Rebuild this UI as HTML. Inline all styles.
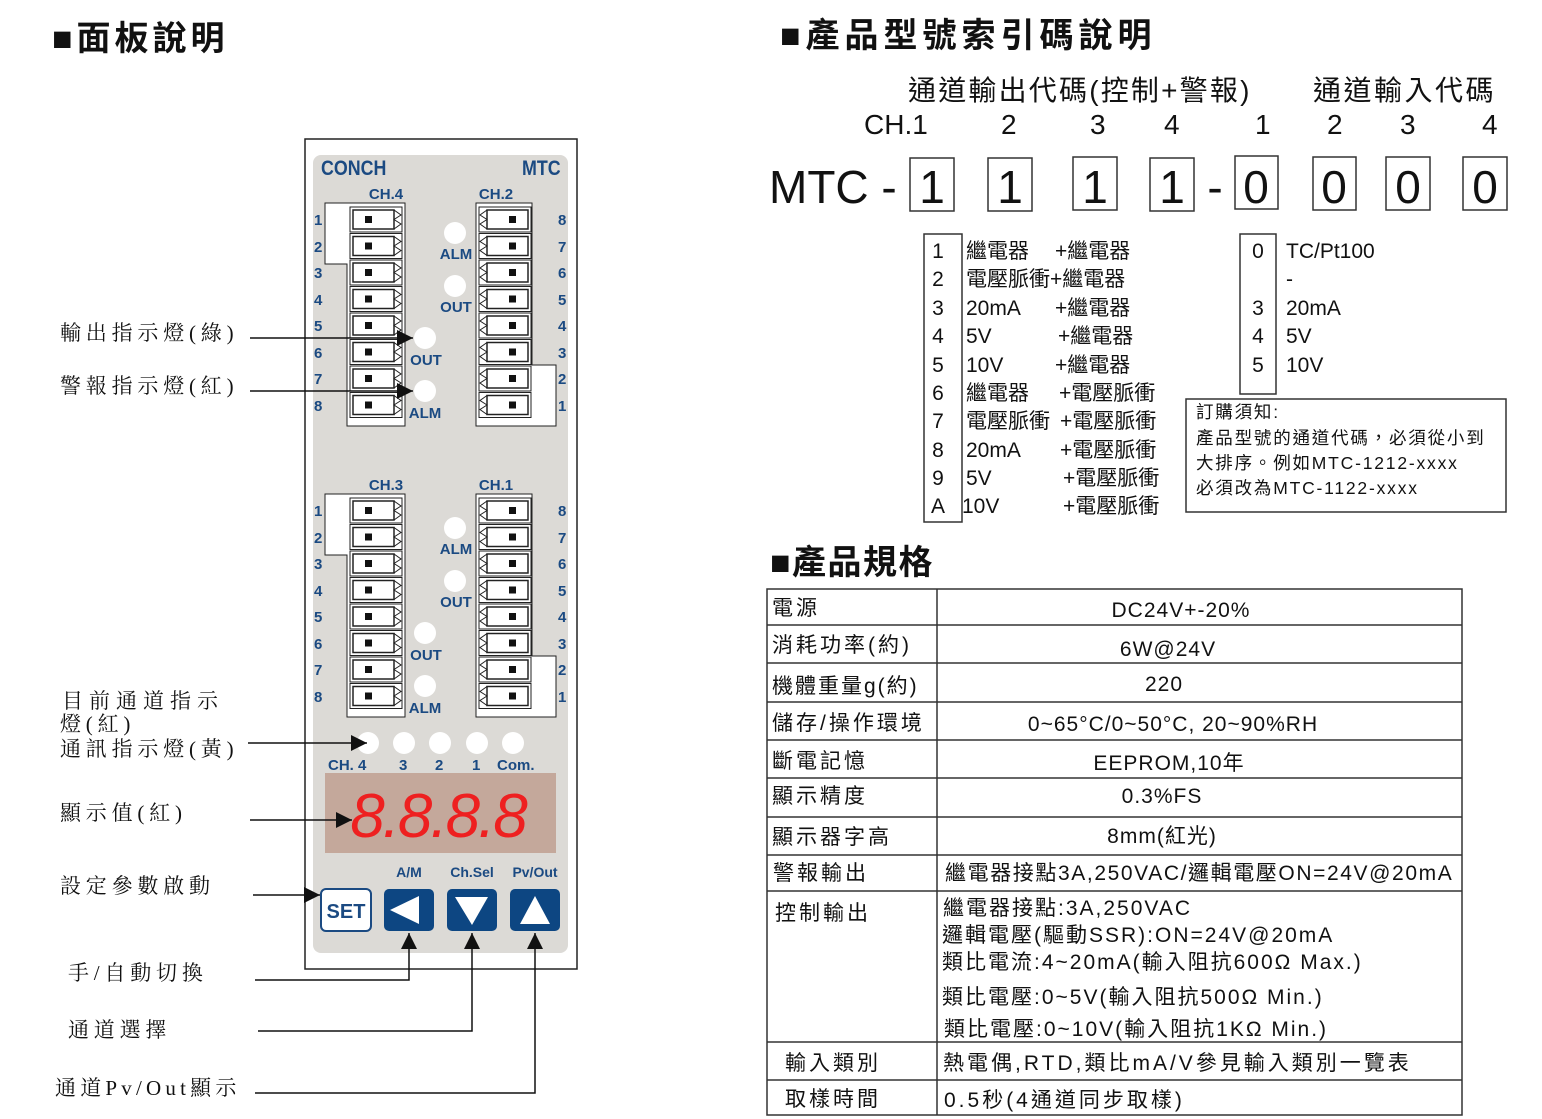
<!DOCTYPE html>
<html><head><meta charset="utf-8"><style>
html,body{margin:0;padding:0;background:#fff;}
svg{display:block;}
.s{font-family:"Liberation Sans","Noto Sans CJK TC",sans-serif;}
.sr{font-family:"Liberation Serif","Noto Serif CJK SC",serif;}
.b{font-weight:bold;fill:#1b4a82;}
</style></head><body>
<svg width="1542" height="1119" viewBox="0 0 1542 1119" xmlns="http://www.w3.org/2000/svg">
<defs>
<g id="tL"><rect x="0" y="0" width="52" height="25" fill="#fff" stroke="#222" stroke-width="1"/><rect x="3" y="3" width="41" height="19" fill="#fff" stroke="#222" stroke-width="1.5"/><rect x="15" y="9" width="7" height="7" fill="#111"/><polyline points="44,3 51,8 44,12.5 51,17 44,22" fill="none" stroke="#222"/></g>
<g id="tR"><rect x="0" y="0" width="52" height="25" fill="#fff" stroke="#222" stroke-width="1"/><rect x="8" y="3" width="41" height="19" fill="#fff" stroke="#222" stroke-width="1.5"/><rect x="30" y="9" width="7" height="7" fill="#111"/><polyline points="8,3 1,8 8,12.5 1,17 8,22" fill="none" stroke="#222"/></g>
<marker id="ar" viewBox="0 0 10 10" refX="10" refY="5" markerWidth="16" markerHeight="16" markerUnits="userSpaceOnUse" orient="auto"><path d="M0,0 L10,5 L0,10 z" fill="#111"/></marker>
</defs>

<text class="s" x="52" y="50" font-size="34" font-weight="bold" fill="#111" letter-spacing="4">■面板說明</text>
<text class="s" x="780" y="47" font-size="34" font-weight="bold" fill="#111" letter-spacing="5">■產品型號索引碼說明</text>
<text class="s" x="770" y="574" font-size="34" font-weight="bold" fill="#111" letter-spacing="1.5">■產品規格</text>

<rect x="305" y="139" width="272" height="830" fill="#fff" stroke="#222" stroke-width="1.5"/>
<rect x="313" y="155" width="255" height="798" rx="8" fill="#dcdad6"/>
<text class="s b" x="321" y="175" font-size="21" transform="translate(321 175) scale(0.85 1) translate(-321 -175)">CONCH</text>
<text class="s b" x="522" y="175" font-size="21" transform="translate(522 175) scale(0.85 1) translate(-522 -175)">MTC</text>

<text class="s b" x="386" y="199" font-size="15" text-anchor="middle">CH.4</text>
<text class="s b" x="496" y="199" font-size="15" text-anchor="middle">CH.2</text>
<polygon points="325,203 405,203 405,426 347,426 347,264 325,264" fill="#fff" stroke="#222"/>
<polygon points="476,203 532,203 532,365 556,365 556,426 476,426" fill="#fff" stroke="#222"/>
<g>
<use href="#tL" x="350" y="207"/><use href="#tL" x="350" y="233.5"/><use href="#tL" x="350" y="260"/><use href="#tL" x="350" y="286.5"/><use href="#tL" x="350" y="313"/><use href="#tL" x="350" y="339.5"/><use href="#tL" x="350" y="366"/><use href="#tL" x="350" y="392.5"/>
<use href="#tR" x="479" y="207"/><use href="#tR" x="479" y="233.5"/><use href="#tR" x="479" y="260"/><use href="#tR" x="479" y="286.5"/><use href="#tR" x="479" y="313"/><use href="#tR" x="479" y="339.5"/><use href="#tR" x="479" y="366"/><use href="#tR" x="479" y="392.5"/>
</g>
<g class="s b" font-size="15">
<text x="314" y="225">1</text><text x="314" y="252">2</text><text x="314" y="278">3</text><text x="314" y="305">4</text><text x="314" y="331">5</text><text x="314" y="358">6</text><text x="314" y="384">7</text><text x="314" y="411">8</text>
<text x="558" y="225">8</text><text x="558" y="252">7</text><text x="558" y="278">6</text><text x="558" y="305">5</text><text x="558" y="331">4</text><text x="558" y="358">3</text><text x="558" y="384">2</text><text x="558" y="411">1</text>
</g>
<g fill="#fff"><circle cx="455" cy="233" r="11"/><circle cx="455" cy="286" r="11"/><circle cx="425" cy="338" r="11"/><circle cx="425" cy="391" r="11"/></g>
<g class="s b" font-size="15" text-anchor="middle"><text x="456" y="259">ALM</text><text x="456" y="312">OUT</text><text x="426" y="365">OUT</text><text x="425" y="418">ALM</text></g>

<text class="s b" x="386" y="490" font-size="15" text-anchor="middle">CH.3</text>
<text class="s b" x="496" y="490" font-size="15" text-anchor="middle">CH.1</text>
<polygon points="325,494 405,494 405,717 347,717 347,555 325,555" fill="#fff" stroke="#222"/>
<polygon points="476,494 532,494 532,656 556,656 556,717 476,717" fill="#fff" stroke="#222"/>
<g>
<use href="#tL" x="350" y="498"/><use href="#tL" x="350" y="524.5"/><use href="#tL" x="350" y="551"/><use href="#tL" x="350" y="577.5"/><use href="#tL" x="350" y="604"/><use href="#tL" x="350" y="630.5"/><use href="#tL" x="350" y="657"/><use href="#tL" x="350" y="683.5"/>
<use href="#tR" x="479" y="498"/><use href="#tR" x="479" y="524.5"/><use href="#tR" x="479" y="551"/><use href="#tR" x="479" y="577.5"/><use href="#tR" x="479" y="604"/><use href="#tR" x="479" y="630.5"/><use href="#tR" x="479" y="657"/><use href="#tR" x="479" y="683.5"/>
</g>
<g class="s b" font-size="15">
<text x="314" y="516">1</text><text x="314" y="543">2</text><text x="314" y="569">3</text><text x="314" y="596">4</text><text x="314" y="622">5</text><text x="314" y="649">6</text><text x="314" y="675">7</text><text x="314" y="702">8</text>
<text x="558" y="516">8</text><text x="558" y="543">7</text><text x="558" y="569">6</text><text x="558" y="596">5</text><text x="558" y="622">4</text><text x="558" y="649">3</text><text x="558" y="675">2</text><text x="558" y="702">1</text>
</g>
<g fill="#fff"><circle cx="455" cy="528" r="11"/><circle cx="455" cy="581" r="11"/><circle cx="425" cy="633" r="11"/><circle cx="425" cy="686" r="11"/></g>
<g class="s b" font-size="15" text-anchor="middle"><text x="456" y="554">ALM</text><text x="456" y="607">OUT</text><text x="426" y="660">OUT</text><text x="425" y="713">ALM</text></g>

<g fill="#fff"><circle cx="368" cy="743" r="11"/><circle cx="404" cy="743" r="11"/><circle cx="440" cy="743" r="11"/><circle cx="477" cy="743" r="11"/><circle cx="513" cy="743" r="11"/></g>
<g class="s b" font-size="15"><text x="328" y="770">CH. 4</text><text x="399" y="770">3</text><text x="435" y="770">2</text><text x="472" y="770">1</text><text x="497" y="770">Com.</text></g>

<rect x="325" y="773" width="231" height="80" fill="#c4a89b"/>
<text x="438" y="837" font-family="Liberation Sans,sans-serif" font-style="italic" font-size="62" fill="#ee2020" text-anchor="middle" letter-spacing="-2">8.8.8.8</text>

<g class="s b" font-size="14" text-anchor="middle"><text x="409" y="877">A/M</text><text x="472" y="877">Ch.Sel</text><text x="535" y="877">Pv/Out</text></g>
<rect x="321" y="889" width="50" height="42" rx="5" fill="#fff" stroke="#1b4a82" stroke-width="2"/>
<text class="s b" x="346" y="918" font-size="20" text-anchor="middle">SET</text>
<rect x="384" y="889" width="50" height="42" rx="5" fill="#0d4682"/>
<rect x="447" y="889" width="50" height="42" rx="5" fill="#0d4682"/>
<rect x="510" y="889" width="50" height="42" rx="5" fill="#0d4682"/>
<polygon points="390,910 419,896 419,924" fill="#fff"/>
<polygon points="455,897 488,897 472,925" fill="#fff"/>
<polygon points="535,896 550,924 520,924" fill="#fff"/>

<g class="sr" font-size="21" fill="#111" letter-spacing="4.8">
<text x="60" y="340">輸出指示燈(綠)</text>
<text x="60" y="393">警報指示燈(紅)</text>
<text x="62" y="708" letter-spacing="6">目前通道指示</text>
<text x="60" y="731">燈(紅)</text>
<text x="60" y="756">通訊指示燈(黃)</text>
<text x="60" y="820">顯示值(紅)</text>
<text x="60" y="893">設定參數啟動</text>
<text x="68" y="980">手/自動切換</text>
<text x="68" y="1037">通道選擇</text>
<text x="55" y="1095" letter-spacing="4.2">通道Pv/Out顯示</text>
</g>
<g stroke="#111" stroke-width="1.5" fill="none">
<line x1="250" y1="338" x2="413" y2="338" marker-end="url(#ar)"/>
<line x1="250" y1="391" x2="413" y2="391" marker-end="url(#ar)"/>
<line x1="248" y1="743" x2="367" y2="743" marker-end="url(#ar)"/>
<line x1="250" y1="820" x2="352" y2="820" marker-end="url(#ar)"/>
<line x1="253" y1="895" x2="320" y2="895" marker-end="url(#ar)"/>
<polyline points="255,980 409,980 409,933" marker-end="url(#ar)"/>
<polyline points="258,1031 472,1031 472,933" marker-end="url(#ar)"/>
<polyline points="255,1093 535,1093 535,933" marker-end="url(#ar)"/>
</g>

<g class="s" fill="#111">
<text x="908" y="100" font-size="28" letter-spacing="2.2">通道輸出代碼(控制+警報)</text>
<text x="1313" y="100" font-size="28" letter-spacing="2.5">通道輸入代碼</text>
<g font-size="28"><text x="864" y="134">CH.1</text><text x="1001" y="134">2</text><text x="1090" y="134">3</text><text x="1164" y="134">4</text><text x="1255" y="134">1</text><text x="1327" y="134">2</text><text x="1400" y="134">3</text><text x="1482" y="134">4</text></g>
<text x="769" y="203" font-size="46">MTC -</text>
<text x="1215" y="203" font-size="46" text-anchor="middle">-</text>
</g>
<g fill="none" stroke="#333" stroke-width="1.5">
<rect x="910" y="158" width="44" height="53"/><rect x="988" y="158" width="44" height="53"/><rect x="1073" y="157" width="44" height="53"/><rect x="1150" y="158" width="44" height="53"/><rect x="1235" y="156" width="43" height="53"/><rect x="1313" y="157" width="43" height="53"/><rect x="1386" y="157" width="44" height="53"/><rect x="1463" y="157" width="44" height="53"/>
</g>
<g class="s" font-size="46" fill="#111" text-anchor="middle">
<text x="932" y="203">1</text><text x="1010" y="203">1</text><text x="1095" y="203">1</text><text x="1172" y="203">1</text><text x="1256" y="203">0</text><text x="1334" y="203">0</text><text x="1408" y="203">0</text><text x="1485" y="203">0</text>
</g>

<rect x="924" y="234" width="38" height="288" fill="none" stroke="#333" stroke-width="1.5"/>
<rect x="1240" y="234" width="36" height="160" fill="none" stroke="#333" stroke-width="1.5"/>
<g class="s" font-size="21" fill="#111">
<g text-anchor="middle"><text x="938" y="258">1</text><text x="938" y="286">2</text><text x="938" y="315">3</text><text x="938" y="343">4</text><text x="938" y="372">5</text><text x="938" y="400">6</text><text x="938" y="428">7</text><text x="938" y="457">8</text><text x="938" y="485">9</text><text x="938" y="513">A</text>
<text x="1258" y="258">0</text><text x="1258" y="315">3</text><text x="1258" y="343">4</text><text x="1258" y="372">5</text></g>
<text x="966" y="258">繼電器</text><text x="1055" y="258">+繼電器</text>
<text x="966" y="286">電壓脈衝+繼電器</text>
<text x="966" y="315">20mA</text><text x="1055" y="315">+繼電器</text>
<text x="966" y="343">5V</text><text x="1058" y="343">+繼電器</text>
<text x="966" y="372">10V</text><text x="1055" y="372">+繼電器</text>
<text x="966" y="400">繼電器</text><text x="1059" y="400">+電壓脈衝</text>
<text x="966" y="428">電壓脈衝</text><text x="1060" y="428">+電壓脈衝</text>
<text x="966" y="457">20mA</text><text x="1060" y="457">+電壓脈衝</text>
<text x="966" y="485">5V</text><text x="1063" y="485">+電壓脈衝</text>
<text x="962" y="513">10V</text><text x="1063" y="513">+電壓脈衝</text>
<text x="1286" y="258">TC/Pt100</text><text x="1286" y="286">-</text><text x="1286" y="315">20mA</text><text x="1286" y="343">5V</text><text x="1286" y="372">10V</text>
</g>
<rect x="1186" y="399" width="320" height="113" fill="none" stroke="#333" stroke-width="1.5"/>
<g class="s" font-size="17.5" fill="#111" letter-spacing="1.8">
<text x="1196" y="418">訂購須知:</text>
<text x="1196" y="444">產品型號的通道代碼，必須從小到</text>
<text x="1196" y="469">大排序。例如MTC-1212-xxxx</text>
<text x="1196" y="494">必須改為MTC-1122-xxxx</text>
</g>

<g stroke="#333" stroke-width="1.5" fill="none">
<rect x="767" y="589" width="695" height="526"/>
<line x1="937" y1="589" x2="937" y2="1115"/>
<line x1="767" y1="625" x2="1462" y2="625"/><line x1="767" y1="663" x2="1462" y2="663"/><line x1="767" y1="702" x2="1462" y2="702"/><line x1="767" y1="740" x2="1462" y2="740"/><line x1="767" y1="778" x2="1462" y2="778"/><line x1="767" y1="817" x2="1462" y2="817"/><line x1="767" y1="855" x2="1462" y2="855"/><line x1="767" y1="891" x2="1462" y2="891"/><line x1="767" y1="1042" x2="1462" y2="1042"/><line x1="767" y1="1080" x2="1462" y2="1080"/>
</g>
<g class="s" font-size="21" fill="#111">
<g letter-spacing="3">
<text x="772" y="615">電源</text>
<text x="772" y="652">消耗功率(約)</text>
<text x="772" y="693" letter-spacing="2">機體重量g(約)</text>
<text x="772" y="730">儲存/操作環境</text>
<text x="772" y="768">斷電記憶</text>
<text x="772" y="803">顯示精度</text>
<text x="772" y="844">顯示器字高</text>
<text x="773" y="880">警報輸出</text>
<text x="775" y="920">控制輸出</text>
<text x="785" y="1070">輸入類別</text>
<text x="785" y="1106">取樣時間</text>
</g>
<g text-anchor="middle" letter-spacing="1">
<text x="1181" y="617">DC24V+-20%</text>
<text x="1168" y="656">6W@24V</text>
<text x="1164" y="691">220</text>
<text x="1173" y="731">0~65°C/0~50°C,  20~90%RH</text>
<text x="1169" y="770">EEPROM,10年</text>
<text x="1162" y="803">0.3%FS</text>
<text x="1162" y="843">8mm(紅光)</text>
</g>
<text x="945" y="880" letter-spacing="1.6">繼電器接點3A,250VAC/邏輯電壓ON=24V@20mA</text>
<g letter-spacing="2">
<text x="943" y="915">繼電器接點:3A,250VAC</text>
<text x="942" y="942">邏輯電壓(驅動SSR):ON=24V@20mA</text>
<text x="942" y="969">類比電流:4~20mA(輸入阻抗600Ω Max.)</text>
<text x="942" y="1004">類比電壓:0~5V(輸入阻抗500Ω Min.)</text>
<text x="944" y="1036">類比電壓:0~10V(輸入阻抗1KΩ Min.)</text>
</g>
<text x="943" y="1070" letter-spacing="3">熱電偶,RTD,類比mA/V參見輸入類別一覽表</text>
<text x="944" y="1107" letter-spacing="3">0.5秒(4通道同步取樣)</text>
</g>
</svg>
</body></html>
